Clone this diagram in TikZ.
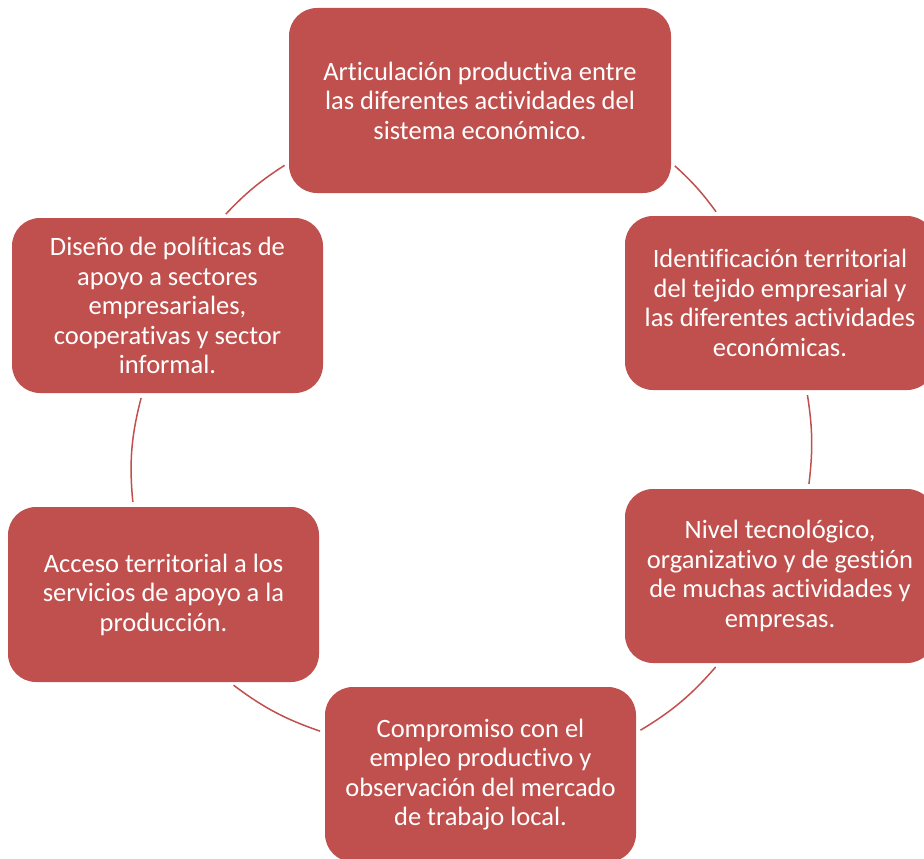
\documentclass[tikz,border=0pt]{standalone}
\usepackage{fontspec}
\setmainfont{Carlito}[Ligatures=CommonOff]
\definecolor{cyclered}{HTML}{C0504D}

\begin{document}
\begin{tikzpicture}[x=1pt, y=-1pt,
    stage/.style={fill=cyclered, text=white, rounded corners=28pt, align=center,
        minimum width=311pt, minimum height=175pt, inner sep=0pt,
        font=\fontsize{26.5}{29.5}\selectfont},
    link/.style={draw=cyclered, line width=1.5pt, shorten <=5pt, shorten >=5pt}]
    \useasboundingbox (0,0) rectangle (924,859);
    \node[stage, minimum width=382pt, minimum height=185pt] (articulacion) at (480,100.5)
        {Articulación productiva entre\\las diferentes actividades del\\sistema económico.};
    \node[stage, minimum width=310pt, minimum height=174pt] (identificacion) at (780,303)
        {Identificación territorial\\del tejido empresarial y\\las diferentes actividades\\económicas.};
    \node[stage, minimum width=310pt, minimum height=174pt] (nivel) at (780,576)
        {Nivel tecnológico,\\organizativo y de gestión\\de muchas actividades y\\empresas.};
    \node[stage] (compromiso) at (480.5,774.5)
        {Compromiso con el\\empleo productivo y\\observación del mercado\\de trabajo local.};
    \node[stage] (acceso) at (163.5,594.5)
        {Acceso territorial a los\\servicios de apoyo a la\\producción.};
    \node[stage] (diseno) at (167.5,305.5)
        {Diseño de políticas de\\apoyo a sectores\\empresariales,\\cooperativas y sector\\informal.};
    \draw[link] (articulacion.-18) to[bend left=6] (identificacion.125);
    \draw[link] (identificacion.-73) to[bend left=8] (nivel.72);
    \draw[link] (nivel.-125) to[bend left=9] (compromiso.15);
    \draw[link] (compromiso.165) to[bend left=9] (acceso.-53);
    \draw[link] (acceso.109) to[bend left=10] (diseno.-106);
    \draw[link] (diseno.58) to[bend left=7] (articulacion.198);
\end{tikzpicture}
\end{document}
